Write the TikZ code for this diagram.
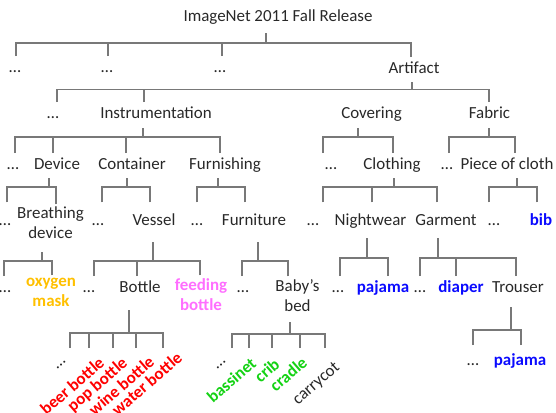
\documentclass[tikz,border=0pt]{standalone}
\usepackage{fontspec}
\setmainfont{Carlito}
\definecolor{txtgray}{RGB}{40,40,40}
\definecolor{linegray}{RGB}{120,120,120}
\definecolor{hlblue}{RGB}{10,10,255}
\definecolor{hlred}{RGB}{255,0,0}
\definecolor{hlgreen}{RGB}{20,210,20}
\definecolor{hlorange}{RGB}{255,192,0}
\definecolor{hlpink}{RGB}{255,110,255}
\newcommand{\lblfont}{\fontsize{12.7}{15}\selectfont}
\newcommand{\tstrut}{\rule[-3.5pt]{0pt}{13.5pt}}

\begin{document}
\begin{tikzpicture}[x=0.75pt,y=-0.75pt,font=\lblfont,
  lbl/.style={text=txtgray,inner sep=2pt,execute at begin node=\tstrut},
  two/.style={lbl,align=center,anchor=north},
  hl/.style={font=\lblfont\bfseries,text=#1},
  rot/.style={lbl,rotate=41,anchor=east},
  link/.style={draw=linegray,line width=0.95pt}]
  \useasboundingbox (0,0) rectangle (556,413);

  % labels, row by row
  \node[lbl] (root) at (278,17) {ImageNet 2011 Fall Release};

  \node[lbl] (d1a) at (15,68) {\dots};
  \node[lbl] (d1b) at (107,68) {\dots};
  \node[lbl] (d1c) at (220,68) {\dots};
  \node[lbl] (art) at (414,69) {Artifact};

  \node[lbl] (d2) at (53,114) {\dots};
  \node[lbl] (instr) at (156,114) {Instrumentation};
  \node[lbl] (cover) at (371.5,114) {Covering};
  \node[lbl] (fabric) at (489.5,114) {Fabric};

  \node[lbl] (d3a) at (13,165) {\dots};
  \node[lbl] (device) at (57,165) {Device};
  \node[lbl] (contain) at (132,165) {Container};
  \node[lbl] (furnish) at (225,165) {Furnishing};
  \node[lbl] (d3b) at (331,165) {\dots};
  \node[lbl] (cloth) at (392,165) {Clothing};
  \node[lbl] (d3c) at (447,165) {\dots};
  \node[lbl] (piece) at (507,165) {Piece of cloth};

  \node[lbl] (d4a) at (5,221) {\dots};
  \node[two] (breath) at (50.5,204.3) {Breathing\\device\tstrut};
  \node[lbl] (d4b) at (98,221) {\dots};
  \node[lbl] (vessel) at (154,221) {Vessel};
  \node[lbl] (d4c) at (197,221) {\dots};
  \node[lbl] (furni) at (254,221) {Furniture};
  \node[lbl] (d4d) at (313,221) {\dots};
  \node[lbl] (night) at (370.5,221) {Nightwear};
  \node[lbl] (garm) at (446,221) {Garment};
  \node[lbl] (d4e) at (494,221) {\dots};
  \node[lbl,hl=hlblue] (bib) at (541,221) {bib};

  \node[lbl] (d5a) at (5,288) {\dots};
  \node[two,hl=hlorange] (oxy) at (51,275.3) {oxygen\\mask\tstrut};
  \node[lbl] (d5b) at (89,288) {\dots};
  \node[lbl] (bottle) at (140,288) {Bottle};
  \node[two,hl=hlpink] (feed) at (201,275.3) {feeding\\bottle\tstrut};
  \node[lbl] (d5c) at (243,288) {\dots};
  \node[two] (bed) at (297.5,276.3) {Baby’s\\bed\tstrut};
  \node[lbl] (d5d) at (338,288) {\dots};
  \node[lbl,hl=hlblue] (paj1) at (383,288) {pajama};
  \node[lbl] (d5e) at (420,288) {\dots};
  \node[lbl,hl=hlblue] (diaper) at (461,288) {diaper};
  \node[lbl] (trouser) at (518,288) {Trouser};

  \node[rot,anchor=center] (d6a) at (59,362) {\dots};
  \node[rot,hl=hlred] (beer) at (104.7,359.3) {beer bottle};
  \node[rot,hl=hlred] (pop) at (127.7,359.3) {pop bottle};
  \node[rot,hl=hlred] (wine) at (154.7,358.3) {wine bottle};
  \node[rot,hl=hlred] (water) at (182.7,354.3) {water bottle};
  \node[rot,anchor=center] (d6b) at (219,362) {\dots};
  \node[rot,hl=hlgreen] (bassi) at (256.7,360.3) {bassinet};
  \node[rot,hl=hlgreen] (crib) at (280,361) {crib};
  \node[rot,hl=hlgreen] (cradle) at (307.7,359.3) {cradle};
  \node[rot] (carry) at (339.7,363.3) {carrycot};
  \node[lbl] (d6c) at (473,361) {\dots};
  \node[lbl,hl=hlblue] (paj2) at (520,361) {pajama};

  % brackets: tick from parent, then one drop per child
  \coordinate (j0) at (266,43);
  \draw[link,shorten >=3.2pt] (j0) -- (j0 |- root.south);
  \foreach \c/\dx in {d1a/1,d1b/1,d1c/2,art/-3}
    \draw[link] (\c.north) ++(\dx,0) |- (j0);

  \coordinate (j1) at (412,89.5);
  \draw[link,shorten >=1pt] (j1) -- (j1 |- art.south);
  \foreach \c/\dx in {d2/4,instr/-12,fabric/-0.5}
    \draw[link] (\c.north) ++(\dx,0) |- (j1);

  \coordinate (j2a) at (143,137);
  \draw[link,shorten >=1.7pt] (j2a) -- (j2a |- instr.south);
  \foreach \c/\dx in {d3a/2,device/-4,contain/-6,furnish/-5}
    \draw[link] (\c.north) ++(\dx,0) |- (j2a);

  \coordinate (j2b) at (358,137);
  \draw[link,shorten >=1.7pt] (j2b) -- (j2b |- cover.south);
  \foreach \c/\dx in {d3b/-8,cloth/1}
    \draw[link] (\c.north) ++(\dx,0) |- (j2b);

  \coordinate (j2c) at (489,137);
  \draw[link,shorten >=1.7pt] (j2c) -- (j2c |- fabric.south);
  \foreach \c/\dx in {d3c/2,piece/8}
    \draw[link] (\c.north) ++(\dx,0) |- (j2c);

  \coordinate (j3a) at (49,187);
  \draw[link,shorten >=1pt] (j3a) -- (j3a |- device.south);
  \foreach \c/\dx/\s in {d4a/2/5pt,breath/5.5/0pt}
    \draw[link,shorten <=\s] (\c.north) ++(\dx,0) |- (j3a);

  \coordinate (j3b) at (127,187);
  \draw[link,shorten >=1pt] (j3b) -- (j3b |- contain.south);
  \foreach \c/\dx in {d4b/4,vessel/-4}
    \draw[link,shorten <=5pt] (\c.north) ++(\dx,0) |- (j3b);

  \coordinate (j3c) at (218,187);
  \draw[link,shorten >=0.5pt] (j3c) -- (j3c |- furnish.south);
  \foreach \c/\dx in {d4c/0,furni/-9}
    \draw[link,shorten <=5pt] (\c.north) ++(\dx,0) |- (j3c);

  \coordinate (j3d) at (394,187);
  \draw[link,shorten >=1pt] (j3d) -- (j3d |- cloth.south);
  \foreach \c/\dx in {d4d/10,night/1.5,garm/-9}
    \draw[link,shorten <=5pt] (\c.north) ++(\dx,0) |- (j3d);

  \coordinate (j3e) at (517,187);
  \draw[link,shorten >=1pt] (j3e) -- (j3e |- piece.south);
  \foreach \c/\dx in {d4e/-5,bib/-4}
    \draw[link,shorten <=5pt] (\c.north) ++(\dx,0) |- (j3e);

  \coordinate (j4a) at (42,261);
  \draw[link,shorten >=4pt] (j4a) -- (j4a |- breath.south);
  \foreach \c/\dx in {d5a/-1,oxy/1}
    \draw[link] (\c.north) ++(\dx,0) |- (j4a);

  \coordinate (j4b) at (153,261);
  \draw[link,shorten >=7pt] (j4b) -- (j4b |- vessel.south);
  \foreach \c/\dx in {d5b/5,bottle/-3,feed/-1}
    \draw[link] (\c.north) ++(\dx,0) |- (j4b);

  \coordinate (j4c) at (258,261);
  \draw[link,shorten >=7pt] (j4c) -- (j4c |- furni.south);
  \foreach \c/\dx in {d5c/-1,bed/-9.5}
    \draw[link] (\c.north) ++(\dx,0) |- (j4c);

  \coordinate (j4d) at (367,258);
  \draw[link,shorten >=4pt] (j4d) -- (j4d |- night.south);
  \foreach \c/\dx in {d5d/2,paj1/5}
    \draw[link] (\c.north) ++(\dx,0) |- (j4d);

  \coordinate (j4e) at (438,258);
  \draw[link,shorten >=4pt] (j4e) -- (j4e |- garm.south);
  \foreach \c/\dx in {d5e/0,diaper/-5,trouser/-2}
    \draw[link] (\c.north) ++(\dx,0) |- (j4e);

  \coordinate (j5a) at (129,333);
  \draw[link,shorten >=7.7pt] (j5a) -- (j5a |- bottle.south);
  \draw[link] (d6a.center) ++(11,-14) |- (j5a);
  \foreach \c/\dx/\dy in {beer/-15.7/-11.3,pop/-14.7/-11.3,wine/-18.7/-10.3,water/-19.7/-6.3}
    \draw[link] (\c.east) ++(\dx,\dy) |- (j5a);

  \coordinate (j5b) at (290,334);
  \draw[link,shorten >=2.5pt] (j5b) -- (j5b |- bed.south);
  \draw[link] (d6b.center) ++(13,-14) |- (j5b);
  \foreach \c/\dx/\dy in {bassi/-7.7/-12.3,crib/-8/-13,cradle/-7.7/-11.3,carry/-14.7/-15.3}
    \draw[link] (\c.east) ++(\dx,\dy) |- (j5b);

  \coordinate (j5c) at (511,330);
  \draw[link,shorten >=5.5pt] (j5c) -- (j5c |- trouser.south);
  \foreach \c/\dx in {d6c/0,paj2/1}
    \draw[link,shorten <=3pt] (\c.north) ++(\dx,0) |- (j5c);
\end{tikzpicture}
\end{document}
